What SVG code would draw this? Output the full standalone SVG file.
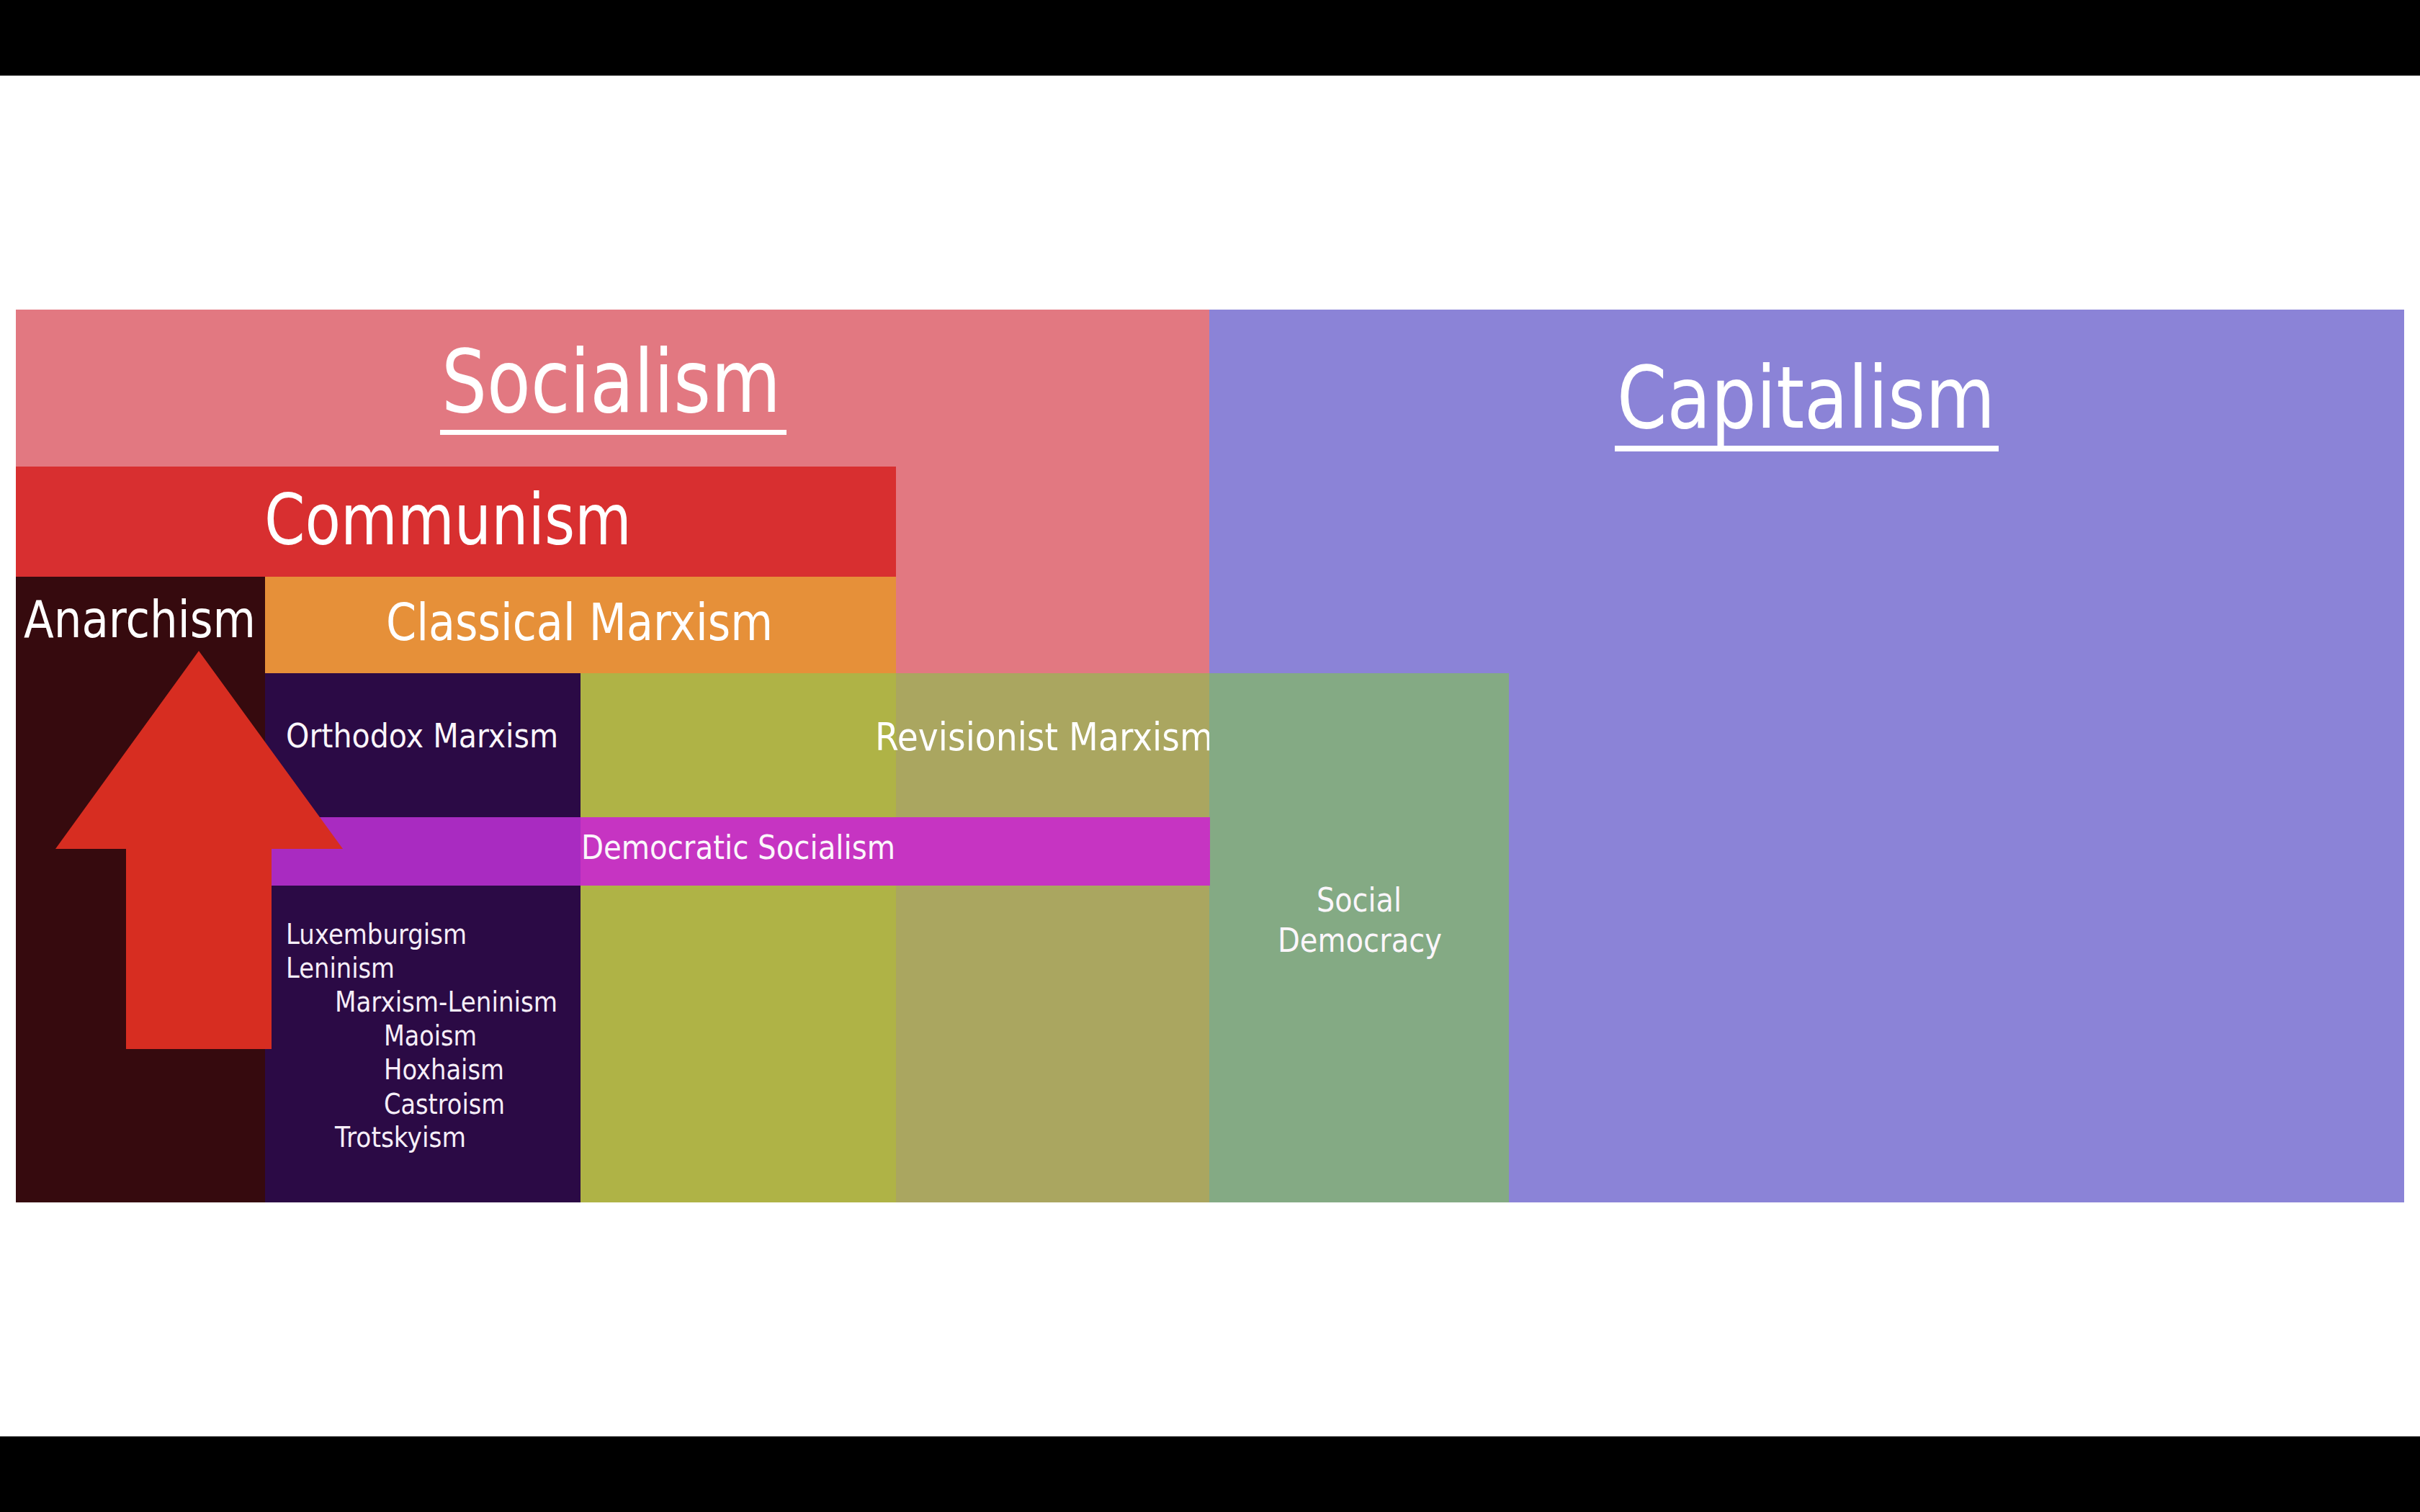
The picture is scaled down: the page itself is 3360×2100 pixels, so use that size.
<svg xmlns="http://www.w3.org/2000/svg" width="3360" height="2100" viewBox="0 0 3360 2100">
<style>
text { font-family: "DejaVu Sans", "Liberation Sans", sans-serif; fill: #ffffff; }
.lst { font-size: 39px; fill: #f6eef8; }
.mid { font-size: 47px; fill: #fbf6fb; }
</style>
<rect x="0" y="0" width="3360" height="2100" fill="#ffffff"/>
<rect x="0" y="0" width="3360" height="105" fill="#000000"/>
<rect x="0" y="1995" width="3360" height="105" fill="#000000"/>

<g id="socialism">
<rect x="22" y="430" width="1657" height="505" fill="#e27881"/>
<text x="613" y="572" font-size="122" textLength="471" lengthAdjust="spacingAndGlyphs">Socialism</text>
<rect x="611" y="597" width="481" height="7" fill="#ffffff"/>
</g>

<g id="capitalism">
<rect x="1679" y="430" width="1659" height="1240" fill="#8b83d7"/>
<text x="2245" y="594" font-size="120" textLength="525" lengthAdjust="spacingAndGlyphs">Capitalism</text>
<rect x="2242" y="619" width="533" height="8" fill="#ffffff"/>
</g>

<g id="communism">
<rect x="22" y="648" width="1222" height="153" fill="#d82f30"/>
<text x="367" y="756" font-size="98" textLength="510" lengthAdjust="spacingAndGlyphs">Communism</text>
</g>

<g id="anarchism">
<rect x="22" y="801" width="346" height="869" fill="#360a0e"/>
<text x="33" y="885" font-size="72" textLength="322" lengthAdjust="spacingAndGlyphs">Anarchism</text>
</g>

<g id="classical-marxism">
<rect x="368" y="801" width="876" height="134" fill="#e69039"/>
<text x="536" y="889" font-size="72" textLength="537" lengthAdjust="spacingAndGlyphs">Classical Marxism</text>
</g>

<g id="orthodox-marxism">
<rect x="368" y="935" width="438" height="735" fill="#2b0a45"/>
<text class="mid" x="397" y="1038" textLength="378" lengthAdjust="spacingAndGlyphs">Orthodox Marxism</text>
</g>

<g id="revisionist-marxism">
<rect x="806" y="935" width="438" height="735" fill="#afb346"/>
<rect x="1244" y="935" width="435" height="735" fill="#aaa660"/>
<text x="1215" y="1042" font-size="53" textLength="469" lengthAdjust="spacingAndGlyphs" fill="#fbfbf0">Revisionist Marxism</text>
</g>

<g id="social-democracy">
<rect x="1679" y="935" width="416" height="735" fill="#84aa84"/>
<text class="mid" x="1828" y="1266" textLength="118" lengthAdjust="spacingAndGlyphs">Social</text>
<text class="mid" x="1774" y="1322" textLength="228" lengthAdjust="spacingAndGlyphs">Democracy</text>
</g>

<g id="democratic-socialism">
<rect x="377" y="1135" width="429" height="95" fill="#a92bc1"/>
<rect x="806" y="1135" width="874" height="95" fill="#c634c2"/>
<text class="mid" x="807" y="1193" textLength="436" lengthAdjust="spacingAndGlyphs" fill="#f8e4f6">Democratic Socialism</text>
</g>

<g id="orthodox-list">
<text class="lst" x="397" y="1311" textLength="251" lengthAdjust="spacingAndGlyphs">Luxemburgism</text>
<text class="lst" x="397" y="1358" textLength="151" lengthAdjust="spacingAndGlyphs">Leninism</text>
<text class="lst" x="465" y="1405" textLength="309" lengthAdjust="spacingAndGlyphs">Marxism-Leninism</text>
<text class="lst" x="533" y="1452" textLength="129" lengthAdjust="spacingAndGlyphs">Maoism</text>
<text class="lst" x="533" y="1499" textLength="167" lengthAdjust="spacingAndGlyphs">Hoxhaism</text>
<text class="lst" x="533" y="1547" textLength="168" lengthAdjust="spacingAndGlyphs">Castroism</text>
<text class="lst" x="465" y="1593" textLength="182" lengthAdjust="spacingAndGlyphs">Trotskyism</text>
</g>

<g id="connectors">
<polygon id="up-arrow" points="276,904 476,1179 377,1179 377,1457 175,1457 175,1179 77,1179" fill="#d72d21"/>
</g>
</svg>
